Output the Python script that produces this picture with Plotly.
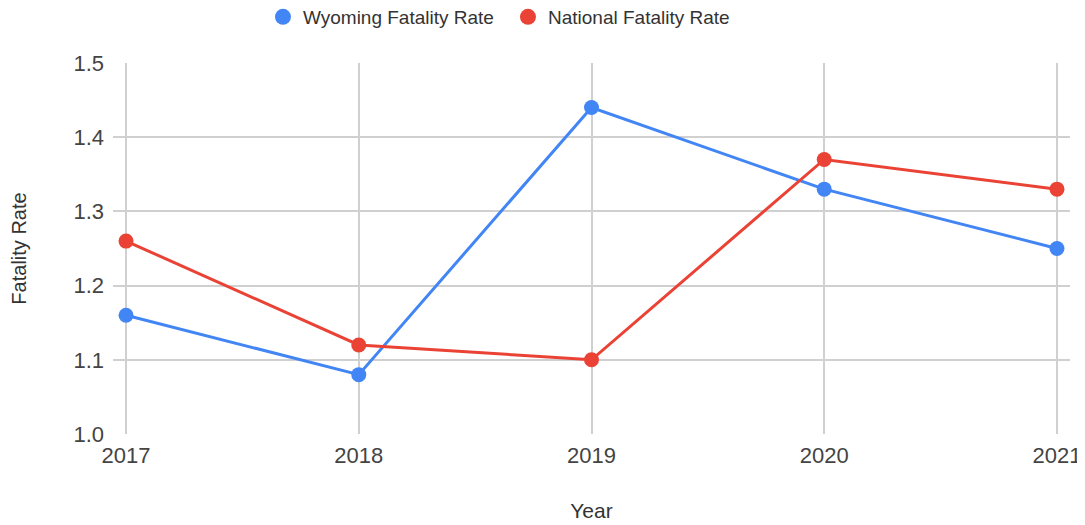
import plotly.graph_objects as go

years = [2017, 2018, 2019, 2020, 2021]
wyoming = [1.16, 1.08, 1.44, 1.33, 1.25]
national = [1.26, 1.12, 1.10, 1.37, 1.33]
blue = "#4285F4"
red = "#EA4335"

fig = go.Figure()
fig.add_trace(go.Scatter(x=years, y=wyoming, mode="lines+markers", showlegend=False,
                         line=dict(color=blue, width=3), marker=dict(size=15, color=blue)))
fig.add_trace(go.Scatter(x=years, y=national, mode="lines+markers", showlegend=False,
                         line=dict(color=red, width=3), marker=dict(size=15, color=red)))
fig.add_trace(go.Scatter(x=[None], y=[None], mode="markers", name="Wyoming Fatality Rate",
                         marker=dict(size=20, color=blue)))
fig.add_trace(go.Scatter(x=[None], y=[None], mode="markers", name="National Fatality Rate",
                         marker=dict(size=20, color=red)))

fig.update_layout(
    width=1085, height=525,
    margin=dict(l=105, r=23, t=55, b=99, autoexpand=False),
    paper_bgcolor="white", plot_bgcolor="white",
    font=dict(family="Liberation Sans, Arial, sans-serif", size=18, color="#444"),
    legend=dict(orientation="h", xref="container", yref="container",
                x=0.235, xanchor="left", y=1 - 9 / 525, yanchor="middle",
                font=dict(size=19, color="#333"), itemsizing="trace", itemwidth=30,
                entrywidth=200, entrywidthmode="pixels", tracegroupgap=0),
    xaxis=dict(range=[2016.944, 2021.056], tickvals=years, ticktext=[str(y) for y in years],
               showgrid=True, gridcolor="#d0d0d0", gridwidth=1.5, zeroline=False,
               showline=False, ticks="", ticklabelstandoff=6,
               tickfont=dict(size=22, color="#444"),
               title=dict(text="Year", font=dict(size=21, color="#333"), standoff=36)),
    yaxis=dict(range=[1.0, 1.5], tickvals=[1.0, 1.1, 1.2, 1.3, 1.4, 1.5],
               ticktext=["1.0", "1.1", "1.2", "1.3", "1.4", "1.5"],
               showgrid=True, gridcolor="#d0d0d0", gridwidth=1.5, zeroline=False,
               showline=False, ticks="", ticklabelstandoff=8,
               tickfont=dict(size=22, color="#444"),
               title=dict(text="Fatality Rate", font=dict(size=20, color="#333"), standoff=44)),
)
fig.write_html("out.html")
